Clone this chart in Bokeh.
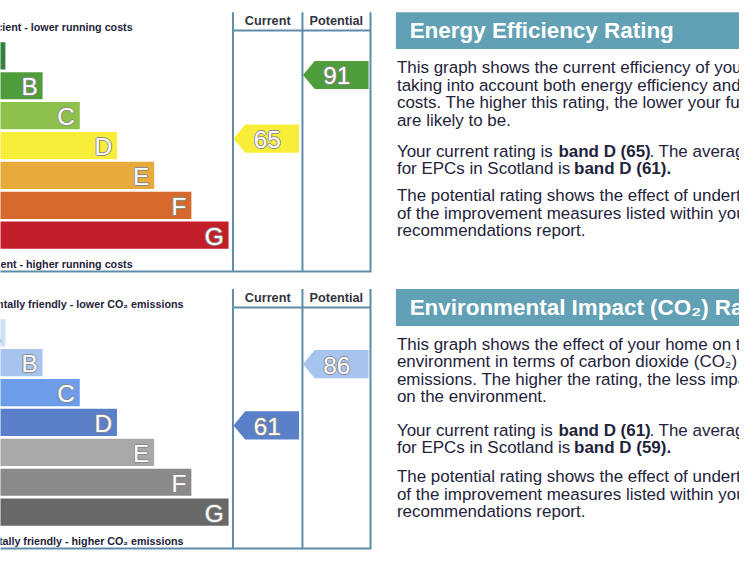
from bokeh.plotting import figure
from bokeh.models import Range1d
from bokeh.embed import file_html
from bokeh.resources import INLINE
from bokeh.core.properties import value

# ---------------- data ----------------
bands = ["A", "B", "C", "D", "E", "F", "G"]
band_min = [92, 81, 69, 55, 39, 21, 1]
ee_colors = ["#2f813b", "#4f9c3b", "#8dc14b", "#f8ee3a", "#e8aa3b", "#d6692c", "#c31f2b"]
ei_colors = ["#cde0f5", "#a6c4ee", "#6d9de9", "#5a80c9", "#a8a8a8", "#8a8a8a", "#686868"]
columns = ["Current", "Potential"]
ee_values = [65, 91]          # current, potential
ei_values = [61, 86]          # current, potential
ee_scotland_avg = 61
ei_scotland_avg = 59
ee_scale_labels = ["Very energy efficient - lower running costs",
                   "Not energy efficient - higher running costs"]
ei_scale_labels = ["Very environmentally friendly - lower CO\u2082 emissions",
                   "Not environmentally friendly - higher CO\u2082 emissions"]
ee_title = "Energy Efficiency Rating"
ei_title = "Environmental Impact (CO\u2082) Rating"


def band_of(v):
    for b, m in zip(bands, band_min):
        if v >= m:
            return b
    return bands[-1]


# ---------------- figure ----------------
W, H = 739, 550
REF_W, REF_H = 755, 566
F = (W / REF_W + H / REF_H) / 2   # font scale

p = figure(width=W, height=H, x_range=Range1d(0, REF_W), y_range=Range1d(REF_H, 0),
           output_backend="svg", toolbar_location=None, min_border=0,
           x_axis_type=None, y_axis_type=None)
p.grid.visible = False
p.outline_line_color = None
p.background_fill_color = "white"
p.border_fill_color = "white"

FONT = value("Liberation Sans")
TXT = "#23233a"
LINE = "#5f8caa"


def txt(x, y, s, size, color=TXT, bold=False, align="left", baseline="middle", xo=0, yo=0):
    p.text(x=[x], y=[y], text=[s], text_font=FONT, text_font_size=f"{size * F:.2f}px",
           text_color=color, text_font_style="bold" if bold else "normal",
           text_align=align, text_baseline=baseline, x_offset=xo, y_offset=yo)


def outlined(x, y, s, size, fill="white", outline="#8a8a8a", align="center"):
    for dx, dy in [(-1, 0), (1, 0), (0, -1), (0, 1)]:
        txt(x, y, s, size, color=outline, align=align, xo=dx, yo=dy)
    txt(x, y, s, size, color=fill, align=align)


PITCH = 30.75
BAR_H = 28


def draw_panel(oy, colors, values, scale_labels, label_right):
    # bars
    centers = [oy + 57 + PITCH * i for i in range(len(bands))]
    rights = [5 + 38 * i for i in range(len(bands))]
    lefts = [-20] * len(bands)
    p.quad(left=lefts, right=rights, top=[c - BAR_H / 2 for c in centers],
           bottom=[c + BAR_H / 2 for c in centers], fill_color=colors, line_color=None)
    for b, c, r in zip(bands, centers, rights):
        outlined(r - 5, c + 1, b, 25, align="right")
    # scale labels
    txt(label_right, oy + 27, scale_labels[0], 11, bold=True, align="right")
    txt(label_right, oy + 271, scale_labels[1], 11, bold=True, align="right")
    # table frame
    for xv in [237.5, 308.5, 378]:
        p.segment(x0=[xv], y0=[oy + 12], x1=[xv], y1=[oy + 279], line_color=LINE, line_width=2)
    p.segment(x0=[237.5], y0=[oy + 31], x1=[378], y1=[oy + 31], line_color=LINE, line_width=2)
    p.segment(x0=[-10], y0=[oy + 279], x1=[379], y1=[oy + 279], line_color=LINE, line_width=2)
    txt(273, oy + 21, columns[0], 13, color="#333340", bold=True, align="center")
    txt(343, oy + 21, columns[1], 13, color="#333340", bold=True, align="center")
    # arrows
    for (tip, right), v in zip([(238, 305), (309, 376)], values):
        cy = oy + 306 - 2.52 * v
        col = colors[bands.index(band_of(v))]
        xs = [tip, tip + 12, right, right, tip + 12]
        ys = [cy, cy - 14.5, cy - 14.5, cy + 14.5, cy + 14.5]
        p.patch(x=xs, y=ys, fill_color=col, line_color=None)
        outlined((tip + right) / 2 + 1, cy + 1, str(v), 25)


draw_panel(0, ee_colors, ee_values, ee_scale_labels, 135)
draw_panel(285, ei_colors, ei_values, ei_scale_labels, 187)

# ---------------- right-hand text ----------------
HEAD = "#62a1b5"
PF = 17.4


def heading(oy, s):
    p.quad(left=[404], right=[780], top=[oy + 12], bottom=[oy + 50], fill_color=HEAD, line_color=None)
    txt(418, oy + 31, s, 23, color="white", bold=True)


def para(lines, ys):
    for s, y in zip(lines, ys):
        txt(405, y, s, PF)


def rating_lines(oy, cur, avg):
    txt(405, oy + 155, "Your current rating is", PF)
    txt(570, oy + 155, f"band {band_of(cur)} ({cur})", PF, bold=True)
    txt(663, oy + 155, ". The average rating", PF)
    txt(405, oy + 173, "for EPCs in Scotland is", PF)
    txt(586, oy + 173, f"band {band_of(avg)} ({avg}).", PF, bold=True)


heading(0, ee_title)
para(["This graph shows the current efficiency of your home,",
      "taking into account both energy efficiency and fuel",
      "costs. The higher this rating, the lower your fuel bills",
      "are likely to be."], [69, 87, 105, 123])
rating_lines(0, ee_values[0], ee_scotland_avg)
para(["The potential rating shows the effect of undertaking all",
      "of the improvement measures listed within your",
      "recommendations report."], [201, 219, 237])

heading(285, ei_title)
para(["This graph shows the effect of your home on the",
      "environment in terms of carbon dioxide (CO\u2082)",
      "emissions. The higher the rating, the less impact it has",
      "on the environment."], [354, 372, 390, 408])
rating_lines(287, ei_values[0], ei_scotland_avg)
para(["The potential rating shows the effect of undertaking all",
      "of the improvement measures listed within your",
      "recommendations report."], [490, 508, 526])

open("out.html", "w").write(file_html(p, INLINE))
